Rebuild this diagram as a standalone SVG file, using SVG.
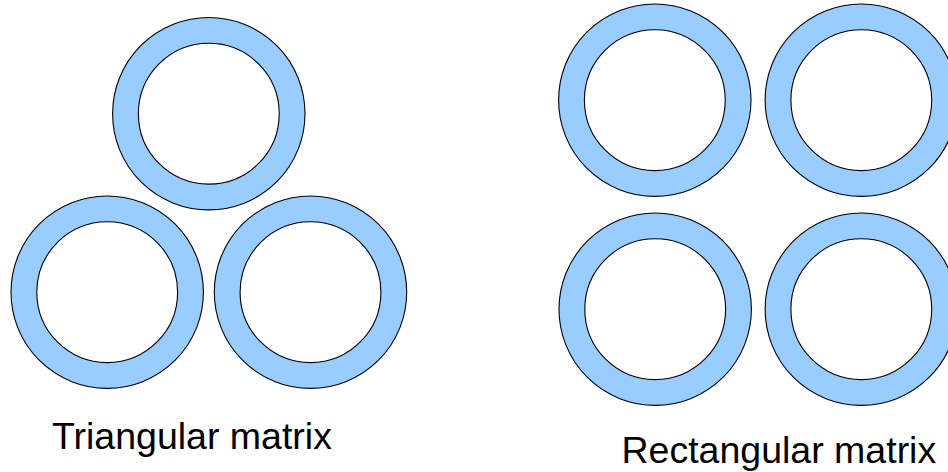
<svg xmlns="http://www.w3.org/2000/svg" width="948" height="472" viewBox="0 0 948 472">
<style>
.outer{fill:#99ccff;stroke:#000;stroke-width:1.1}
.inner{fill:#fff;stroke:#000;stroke-width:1.1}
.lbl{font-family:"Liberation Sans",Arial,sans-serif;font-size:37.5px;fill:#000}
</style>
<rect width="948" height="472" fill="#fff"/>
<g id="tri-top"><circle class="outer" cx="208.8" cy="113.7" r="96.2"/><circle class="inner" cx="208.8" cy="113.7" r="70.4"/></g>
<g id="tri-left"><circle class="outer" cx="107.2" cy="292.2" r="96.2"/><circle class="inner" cx="107.2" cy="292.2" r="70.4"/></g>
<g id="tri-right"><circle class="outer" cx="310.5" cy="292.2" r="96.2"/><circle class="inner" cx="310.5" cy="292.2" r="70.4"/></g>
<g id="rect-tl"><circle class="outer" cx="654.8" cy="100.2" r="96.2"/><circle class="inner" cx="654.8" cy="100.2" r="70.4"/></g>
<g id="rect-tr"><circle class="outer" cx="861.3" cy="100.2" r="96.2"/><circle class="inner" cx="861.3" cy="100.2" r="70.4"/></g>
<g id="rect-bl"><circle class="outer" cx="655.2" cy="309.2" r="96.2"/><circle class="inner" cx="655.2" cy="309.2" r="70.4"/></g>
<g id="rect-br"><circle class="outer" cx="861.3" cy="309.2" r="96.2"/><circle class="inner" cx="861.3" cy="309.2" r="70.4"/></g>
<g id="labels">
<text class="lbl" x="52" y="449.3">Triangular matrix</text>
<text class="lbl" x="621.5" y="462.7">Rectangular matrix</text>
</g>
</svg>
